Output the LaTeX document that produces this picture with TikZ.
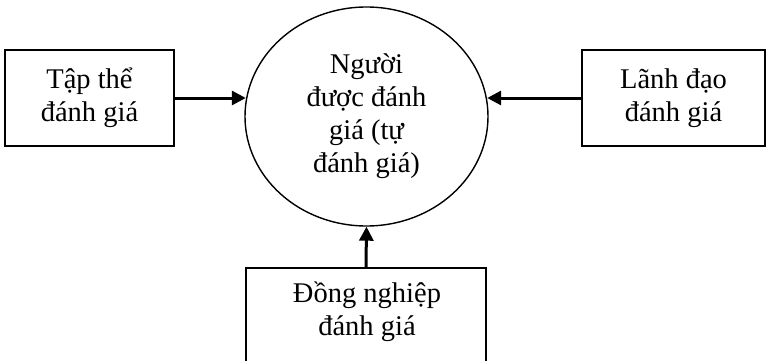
\documentclass[tikz,border=0pt]{standalone}
\usepackage{fontspec}
\setmainfont{Liberation Serif}
\usetikzlibrary{arrows.meta,shapes.geometric}
\begin{document}
\begin{tikzpicture}[x=1pt,y=-1pt,
  txt/.style={font=\fontsize{28.5}{33}\selectfont, align=center},
  rbox/.style={draw, line width=1.7pt, inner sep=0pt, txt},
  conn/.style={line width=3pt, -{Triangle[length=14pt,width=14pt]}}]
\useasboundingbox (0,0) rectangle (766,361);
\node[rbox, minimum width=169pt, minimum height=96pt] (l) at (89.5,98) {Tập thể\\đánh giá};
\node[rbox, minimum width=183pt, minimum height=96pt] (r) at (673.5,98) {Lãnh đạo\\đánh giá};
\node[draw, line width=1.7pt, minimum width=240pt, minimum height=130pt, anchor=north] (b) at (366,267) {};
\node[txt, anchor=base] (bt) at (367,335) {Đồng nghiệp\\đánh giá};
\node[draw, ellipse, line width=1.4pt, inner sep=0pt, minimum width=243pt, minimum height=219pt] (c) at (366.5,116.5) {};
\node[txt] (ct) at (366.5,116) {Người\\được đánh\\giá (tự\\đánh giá)};
\draw[conn] (l.east) -- ([xshift=1.5pt]l.east -| c.west);
\draw[conn] (r.west) -- ([xshift=-1.5pt]r.west -| c.east);
\draw[conn] (b.north) -- (c.south);
\end{tikzpicture}
\end{document}
